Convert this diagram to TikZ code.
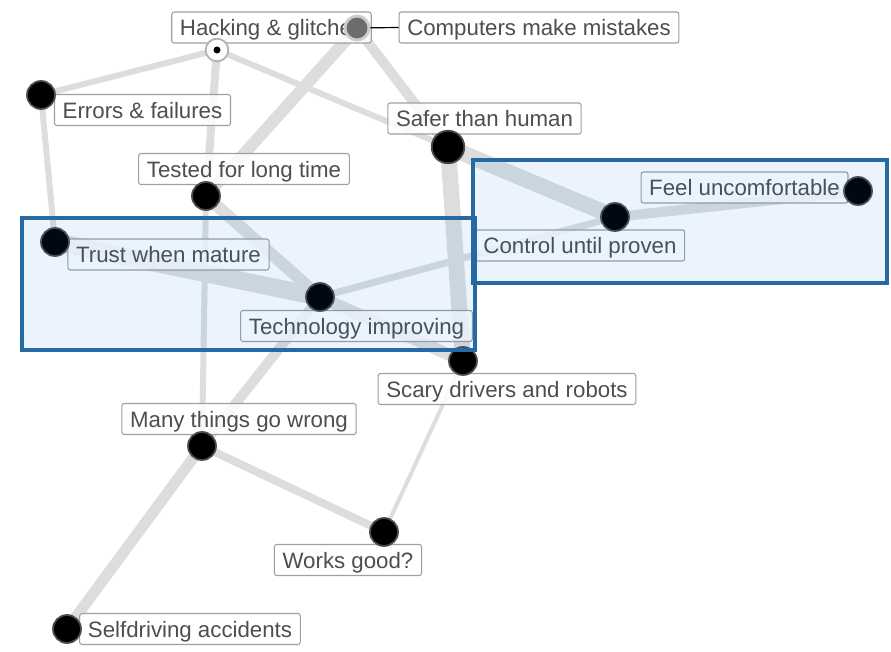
\documentclass[tikz,border=0pt]{standalone}
\usepackage{fontspec}
\setmainfont{Liberation Sans}
\definecolor{edgegray}{RGB}{221,221,221}
\definecolor{boxblue}{RGB}{38,105,163}
\definecolor{boxfill}{RGB}{0,120,230}
\definecolor{labelgray}{RGB}{78,78,78}
\tikzset{
  lbl/.style={draw=gray!75,rounded corners=2pt,fill=white,fill opacity=.85,text opacity=1,
    text=labelgray,font=\fontsize{19}{22}\selectfont,inner xsep=7pt,inner ysep=0pt,
    text height=16pt,text depth=2pt,minimum height=0.93cm,line width=.9pt},
  dot/.style={circle,fill=black,draw=gray!60!black,line width=1.5pt,minimum size=#1,inner sep=0pt},
  dot/.default=0.84cm,
  tie/.style={draw=edgegray,line width=#1*0.85pt},
  zone/.style={draw=boxblue,line width=3.4pt,fill=boxfill,fill opacity=.08}
}

\begin{document}
\begin{tikzpicture}[x=0.03cm,y=-0.03cm]
\useasboundingbox (0,0) rectangle (891,652);
% where the dots sit
\coordinate (hg) at (217,50);
\coordinate (cm) at (357,28);
\coordinate (ef) at (41,95);
\coordinate (sh) at (448,147);
\coordinate (tl) at (206,196);
\coordinate (fu) at (858,191);
\coordinate (cu) at (615,217);
\coordinate (tw) at (55,242);
\coordinate (ti) at (320,297);
\coordinate (sd) at (463,361);
\coordinate (mt) at (202,446);
\coordinate (wg) at (384,532);
\coordinate (sa) at (67,629);
% links, width in px
\foreach \a/\b/\lw in {ef/hg/6,ef/tw/6,hg/tl/8,hg/sh/6,cm/tl/12,cm/sh/10,
    tl/ti/12,tl/mt/6,tw/ti/18,ti/sd/12,ti/cu/7,sh/cu/16,sh/sd/16,
    cu/fu/10,sd/wg/4,mt/wg/8,mt/sa/11,mt/ti/10}
  \draw[tie=\lw] (\a) -- (\b);
% labels
\node[lbl] (l-hg) at (271.5,27.5) {Hacking \& glitches};
\node[lbl] (l-cm) at (539,27.5) {Computers make mistakes};
\node[lbl] (l-ef) at (142.5,110) {Errors \& failures};
\node[lbl] (l-sh) at (484.5,118.5) {Safer than human};
\node[lbl] (l-tl) at (244,169) {Tested for long time};
\node[lbl] (l-fu) at (744.5,187.5) {Feel uncomfortable};
\node[lbl] (l-cu) at (580,245.5) {Control until proven};
\node[lbl] (l-tw) at (168.5,254.5) {Trust when mature};
\node[lbl] (l-ti) at (356.5,326) {Technology improving};
\node[lbl] (l-sd) at (507,389) {Scary drivers and robots};
\node[lbl] (l-mt) at (239,419) {Many things go wrong};
\node[lbl] (l-wg) at (348,560) {Works good?};
\node[lbl] (l-sa) at (190,629) {Selfdriving accidents};
% dots
\foreach \c in {ef,tl,fu,cu,tw,ti,sd,mt,wg,sa}
  \node[dot] (d-\c) at (\c) {};
\node[dot=0.98cm] (d-sh) at (sh) {};
\node[circle,fill=white,draw=gray!60,line width=1.5pt,minimum size=0.68cm] (d-hg) at (hg) {};
\fill (d-hg.center) circle (3.5);
\node[circle,fill=gray!85!black,draw=gray!40,line width=2.5pt,minimum size=0.72cm] (d-cm) at (cm) {};
\draw[black,line width=1pt] (d-cm) -- (l-cm.west);
% highlighted areas
\draw[zone] (22,218) rectangle (475,350);
\draw[zone] (473,160) rectangle (887,283);
\end{tikzpicture}
\end{document}
